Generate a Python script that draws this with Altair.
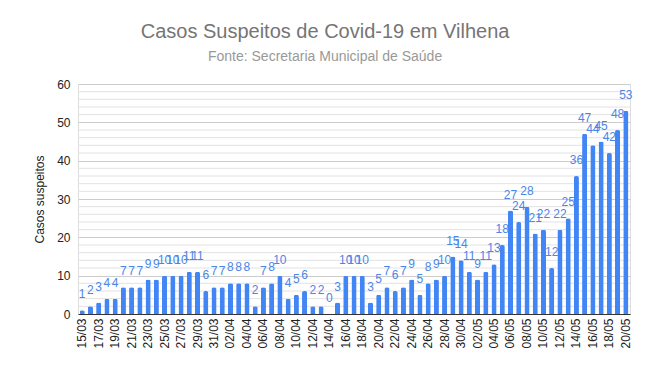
import altair as alt
import pandas as pd

dates = (
    [f"{d:02d}/03" for d in range(15, 32)]
    + [f"{d:02d}/04" for d in range(1, 31)]
    + [f"{d:02d}/05" for d in range(1, 21)]
)
casos = [
    1, 2, 3, 4, 4, 7, 7, 7, 9, 9, 10, 10, 10, 11, 11, 6, 7,
    7, 8, 8, 8, 2, 7, 8, 10, 4, 5, 6, 2, 2, 0, 3, 10, 10, 10, 3, 5, 7, 6, 7, 9, 5, 8, 9, 10, 15, 14,
    11, 9, 11, 13, 18, 27, 24, 28, 21, 22, 12, 22, 25, 36, 47, 44, 45, 42, 48, 53,
]
tick_labels = dates[::2]
major_values = [0, 10, 20, 30, 40, 50, 60]
minor_values = [v for v in range(2, 60, 2) if v % 10 != 0]

df = pd.DataFrame({"data": dates, "casos": casos})

FONT = "Liberation Sans"
BLUE = "#4285f4"
yscale = alt.Scale(domain=[0, 60], nice=False)
xscale = alt.Scale(paddingInner=0.38, paddingOuter=0.2)

xaxis = alt.Axis(
    title=None,
    values=tick_labels,
    labelAngle=-90,
    labelFontSize=12,
    labelColor="#222222",
    labelFont=FONT,
    ticks=False,
    domain=True,
    domainColor="#333333",
    labelPadding=4,
    grid=False,
)
yaxis = alt.Axis(
    title="Casos suspeitos",
    titleFont=FONT,
    titleFontSize=12,
    titleFontWeight="normal",
    titleColor="#222222",
    titlePadding=10,
    values=major_values,
    labelFontSize=12,
    labelColor="#222222",
    labelFont=FONT,
    labelOverlap=False,
    ticks=False,
    domain=False,
    grid=True,
    gridColor="#cccccc",
    labelPadding=8,
)

minor = alt.Chart(pd.DataFrame({"v": minor_values})).mark_rule(
    color="#e2e2e2", strokeWidth=1
).encode(y=alt.Y("v:Q", scale=yscale, axis=yaxis, title="Casos suspeitos"))

bars = alt.Chart(df).mark_bar(
    color=BLUE, cornerRadiusTopLeft=2, cornerRadiusTopRight=2
).encode(
    x=alt.X("data:N", sort=None, scale=xscale, axis=xaxis),
    y=alt.Y("casos:Q", scale=yscale, axis=yaxis, title="Casos suspeitos"),
)

labels = alt.Chart(df).mark_text(
    color="#4a86e8", fontSize=12, font=FONT, dy=-9, baseline="bottom"
).encode(
    x=alt.X("data:N", sort=None, scale=xscale, axis=xaxis),
    y=alt.Y("casos:Q", scale=yscale, axis=yaxis, title="Casos suspeitos"),
    text="casos:Q",
)

chart = (
    alt.layer(minor, bars, labels)
    .properties(
        width=552,
        height=230,
        title=alt.TitleParams(
            text="Casos Suspeitos de Covid-19 em Vilhena",
            subtitle="Fonte: Secretaria Municipal de Saúde",
            font=FONT,
            fontSize=20,
            fontWeight="normal",
            color="#757575",
            subtitleFont=FONT,
            subtitleFontSize=14,
            subtitleColor="#999999",
            subtitlePadding=8,
            anchor="middle",
            frame="bounds",
            dx=-8,
            offset=14,
        ),
        padding={"left": 25, "top": 14, "right": 5, "bottom": 5},
    )
    .configure_view(stroke=None)
    .configure(background="white")
)

chart.save("out.html", embed_options={"renderer": "svg", "actions": False})
